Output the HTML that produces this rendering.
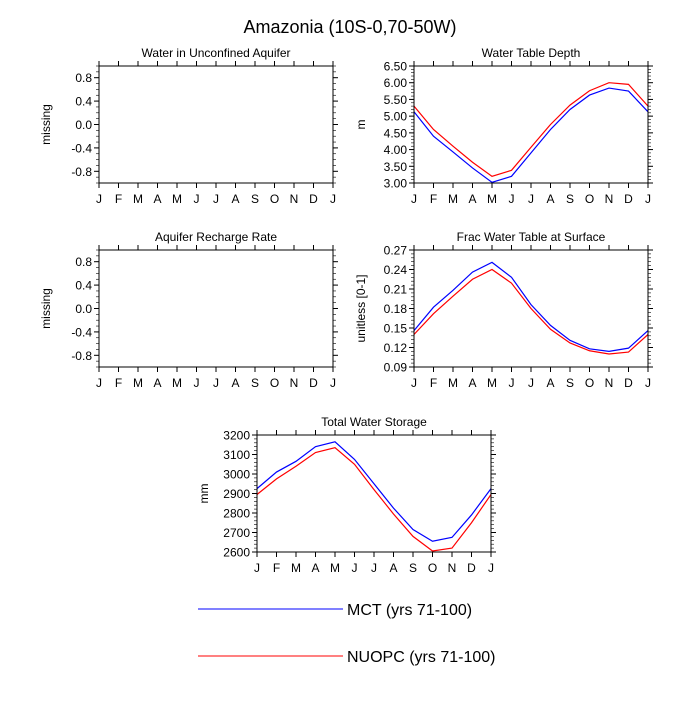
<!DOCTYPE html>
<html><head><meta charset="utf-8"><style>
body{margin:0;background:#fff;font-family:"Liberation Sans",sans-serif}
svg text{font-family:"Liberation Sans",sans-serif;fill:#000}
</style></head><body>
<svg id="c" width="700" height="700" viewBox="0 0 700 700">
<text x="350" y="33" font-size="18" text-anchor="middle">Amazonia (10S-0,70-50W)</text>
<g>
<line x1="198" y1="609" x2="343" y2="609" stroke="#00f" stroke-width="1"/>
<text x="347" y="615" font-size="16">MCT (yrs 71-100)</text>
<line x1="198" y1="656" x2="343" y2="656" stroke="#f00" stroke-width="1"/>
<text x="347" y="662" font-size="16">NUOPC (yrs 71-100)</text>
</g>
</svg>
<script>
const months = ["J","F","M","A","M","J","J","A","S","O","N","D","J"];
const wtdMCT = [5.13,4.40,3.93,3.45,3.02,3.20,3.90,4.60,5.20,5.63,5.84,5.75,5.13];
const wtdNUOPC = [5.30,4.60,4.10,3.62,3.20,3.38,4.07,4.75,5.33,5.76,6.00,5.95,5.30];
const wtdTicks = ["3.00","3.50","4.00","4.50","5.00","5.50","6.00","6.50"];
const fracMCT = [0.146,0.182,0.208,0.236,0.251,0.228,0.186,0.154,0.131,0.118,0.114,0.119,0.146];
const fracNUOPC = [0.140,0.172,0.199,0.225,0.240,0.219,0.180,0.148,0.127,0.115,0.110,0.113,0.140];
const fracTicks = ["0.09","0.12","0.15","0.18","0.21","0.24","0.27"];
const twsMCT = [2925,3010,3065,3140,3165,3075,2950,2825,2715,2655,2675,2790,2925];
const twsNUOPC = [2895,2975,3040,3110,3135,3050,2920,2795,2680,2605,2620,2750,2895];
const twsTicks = ["2600","2700","2800","2900","3000","3100","3200"];
const emptyTicks = ["-0.8","-0.4","0.0","0.4","0.8"];

const svg = document.getElementById('c');
const NS = "http://www.w3.org/2000/svg";
function mk(tag, attrs, parent){const e=document.createElementNS(NS,tag);for(const k in attrs)e.setAttribute(k,attrs[k]);(parent||svg).appendChild(e);return e;}

function panel(key, x0, y0, title, ylab, ticks, ymin, ymax, minorStep, series){
  const W=234, H=117;
  const g = mk('g',{});
  
  
  const xs = i => x0 + i*W/12;
  const ys = v => y0 + H - (v-ymin)/(ymax-ymin)*H;
  const t = mk('text',{x:x0+W/2,y:y0-9,'font-size':12,'text-anchor':'middle'},g);
  t.textContent = title;
  
  
  const yl = mk('text',{x:0,y:0,'font-size':12,'text-anchor':'middle',transform:`translate(${x0-49},${y0+H/2}) rotate(-90)`},g);
  yl.textContent = ylab;
  
  
  months.forEach((m,i)=>{
    const x = xs(i);
    mk('line',{x1:x,y1:y0+H,x2:x,y2:y0+H+5,stroke:'#000'},g);
    mk('line',{x1:x,y1:y0,x2:x,y2:y0-5,stroke:'#000'},g);
    const tx = mk('text',{x:x,y:y0+H+20,'font-size':12,'text-anchor':'middle'},g);
    tx.textContent = m;
    
    
  });
  for(let v=ymin; v<=ymax+1e-9; v+=minorStep){
    const y=ys(v);
    mk('line',{x1:x0,y1:y,x2:x0-3,y2:y,stroke:'#000','stroke-width':0.6},g);
    mk('line',{x1:x0+W,y1:y,x2:x0+W+3,y2:y,stroke:'#000','stroke-width':0.6},g);
  }
  ticks.forEach(s=>{
    const y = ys(parseFloat(s));
    mk('line',{x1:x0,y1:y,x2:x0-5,y2:y,stroke:'#000'},g);
    mk('line',{x1:x0+W,y1:y,x2:x0+W+5,y2:y,stroke:'#000'},g);
    const ty = mk('text',{x:x0-7,y:y+4.5,'font-size':12,'text-anchor':'end'},g);
    ty.textContent = s;
    
    
  });
  series.forEach(([vals,col,nm])=>{
    const p = mk('polyline',{points:vals.map((v,i)=>xs(i)+','+ys(v)).join(' '),fill:'none',stroke:col,'stroke-width':1.2},g);
    
    
  });
  mk('rect',{x:x0,y:y0,width:W,height:H,fill:'none',stroke:'#000','stroke-width':1},g);
}
panel('unconfined-aquifer',99,66,'Water in Unconfined Aquifer','missing',emptyTicks,-1,1,0.1,[]);
panel('water-table-depth',414,66,'Water Table Depth','m',wtdTicks,3,6.5,0.1,[[wtdMCT,'#00f','mct'],[wtdNUOPC,'#f00','nuopc']]);
panel('recharge-rate',99,250,'Aquifer Recharge Rate','missing',emptyTicks,-1,1,0.1,[]);
panel('frac-water-table',414,250,'Frac Water Table at Surface','unitless [0-1]',fracTicks,0.09,0.27,0.006,[[fracMCT,'#00f','mct'],[fracNUOPC,'#f00','nuopc']]);
panel('total-water-storage',257,435,'Total Water Storage','mm',twsTicks,2600,3200,20,[[twsMCT,'#00f','mct'],[twsNUOPC,'#f00','nuopc']]);
</script>
</body></html>
